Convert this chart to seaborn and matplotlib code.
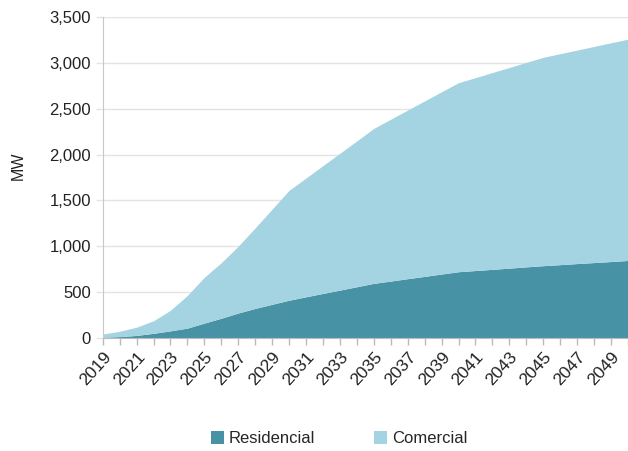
import numpy as np
import pandas as pd
import seaborn as sns
import matplotlib.pyplot as plt
from matplotlib.patches import Patch

years = list(range(2019, 2051))
residencial = [5, 12, 25, 48, 75, 105, 160, 213, 270, 320, 365, 410,
               447, 484, 520, 557, 594, 619, 645, 670, 696, 721,
               734, 747, 760, 774, 787, 798, 810, 821, 832, 844]
comercial = [35, 58, 90, 137, 225, 357, 500, 607, 730, 880, 1040, 1200,
             1298, 1396, 1495, 1593, 1693, 1768, 1842, 1917, 1991, 2065,
             2107, 2150, 2192, 2234, 2276, 2305, 2332, 2361, 2390, 2417]
series = ['Residencial', 'Comercial']
colors = ['#4892a6', '#a4d3e1']

df = pd.DataFrame({'year': years, 'Residencial': residencial, 'Comercial': comercial})

sns.set_style('white')
plt.rcParams['font.family'] = ['Liberation Sans', 'DejaVu Sans']

fig = plt.figure(figsize=(6.28, 4.51), dpi=100)
ax = fig.add_axes([0.1635, 0.2512, 0.8365, 0.7104])

ax.stackplot(df['year'], df['Residencial'], df['Comercial'], colors=colors, linewidth=0)

ax.set_xlim(2019, 2049.55)
ax.set_ylim(0, 3500)
ax.set_yticks(np.arange(0, 3501, 500))
ax.set_yticklabels([f'{v:,}' for v in range(0, 3501, 500)], fontsize=12, color='#222222')
ax.yaxis.grid(True, color='#e3e3e3', linewidth=1)
ax.set_axisbelow(True)

ax.set_xticks(range(2019, 2050, 2))
ax.set_xticks(range(2019, 2051), minor=True)
ax.set_xticklabels([str(y) for y in range(2019, 2050, 2)], rotation=48, ha='right',
                   rotation_mode='anchor', fontsize=12.5, color='#222222')
ax.tick_params(axis='x', which='both', bottom=True, length=5, color='#bbbbbb', width=1)
ax.tick_params(axis='y', left=True, length=5, color='#e3e3e3', width=1)

for s in ['top', 'right']:
    ax.spines[s].set_visible(False)
ax.spines['left'].set_color('#c8c8c8')
ax.spines['bottom'].set_color('#bbbbbb')

ax.set_ylabel('MW', fontsize=11.5, color='#222222')
ax.yaxis.set_label_coords(-0.146, 0.537)
ax.set_xlabel('')

handles = [Patch(facecolor=c, edgecolor='none') for c in colors]
fig.legend(handles, series, loc='center', bbox_to_anchor=(0.54, 0.028), ncol=2,
           frameon=False, fontsize=12, handlelength=0.8, handleheight=0.8,
           handletextpad=0.3, columnspacing=3.5)

fig.savefig('out.png', dpi=100)
